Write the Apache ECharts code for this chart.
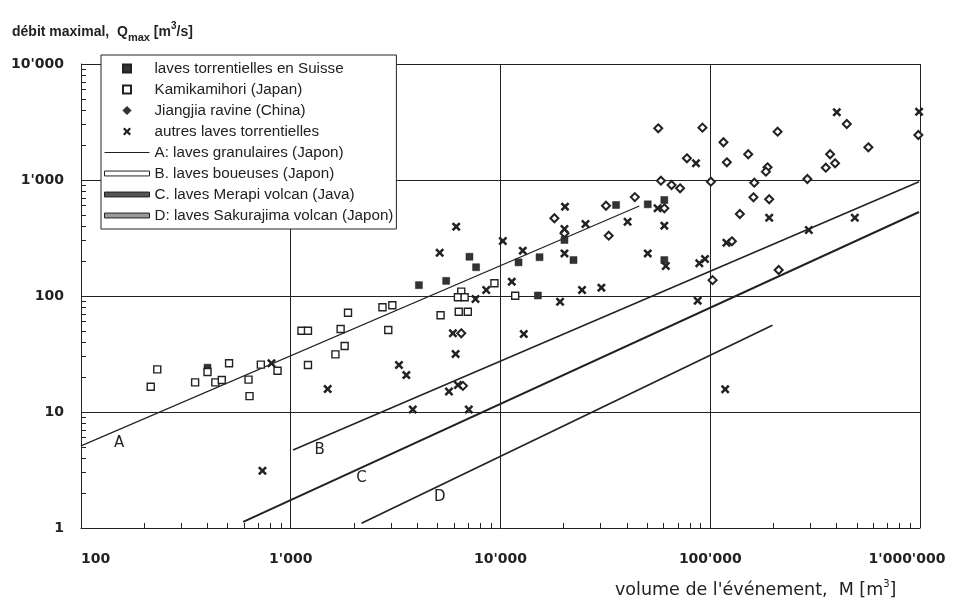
<!DOCTYPE html>
<html>
<head>
<meta charset="utf-8">
<script src="https://cdn.jsdelivr.net/npm/echarts@6/dist/echarts.min.js"></script>
<style>
  html, body { margin: 0; padding: 0; background: #fff; }
  #chart { width: 963px; height: 604px; }
</style>
</head>
<body>
<div id="chart"></div>
<script>
// volume M [m3], debit Q [m3/s]
const suisse = [
  [401, 24.1], [4083, 124], [5508, 135], [7113, 218], [7650, 177], [12190, 195],
  [15350, 216], [20180, 304], [22290, 204], [15070, 101], [35560, 609],
  [50350, 617], [60400, 672], [60400, 204]
]
const kamikamihori = [
  [215, 16.5], [231, 23.3], [350, 18.0], [401, 22.1], [437, 18.0], [469, 18.9],
  [508, 26.3], [629, 19.0], [636, 13.7], [720, 25.6], [865, 22.7], [1125, 50.2],
  [1208, 50.2], [1208, 25.4], [1633, 31.4], [1807, 37.1], [1729, 52.0], [1875, 71.8],
  [2737, 79.9], [3050, 83.2], [2917, 50.9], [5179, 68.2], [9355, 128.7], [6500, 109],
  [6265, 97.5], [6745, 97.5], [11750, 100.6], [6325, 73.2], [6985, 73.2]
]
const jiangjia = [
  [18070, 468], [20180, 347], [31840, 600], [32800, 331], [43700, 712], [60400, 570],
  [6500, 47.7], [102600, 137], [56500, 2790], [91800, 2826], [115600, 2114],
  [120000, 1421], [151700, 1666], [209500, 2610], [187500, 1286], [184200, 1180],
  [77400, 1538], [58200, 986], [65400, 906], [71800, 848], [100700, 967],
  [162200, 948], [290400, 1020], [372700, 1666], [355600, 1277], [393600, 1393],
  [447700, 3040], [567300, 1914], [160700, 709], [191000, 682], [138400, 509],
  [982000, 2443], [211900, 167.5], [126800, 296], [6620, 16.8]
]
const autres = [
  [809, 26.3], [1500, 15.8], [3817, 10.5], [733, 3.12], [5129, 236], [3281, 25.4],
  [3557, 20.8], [20300, 589], [6150, 396], [10260, 298], [12770, 246], [20180, 378],
  [25420, 418], [40350, 437], [20180, 233], [56100, 570], [60400, 404], [50350, 233],
  [61400, 181.5], [11320, 132.9], [8550, 112.7], [7600, 94.2], [19230, 89.3],
  [24470, 112.7], [30270, 118], [87100, 91.1], [88700, 191.4], [94400, 208.4],
  [5930, 47.7], [6110, 31.6], [12910, 47.0], [85500, 1393], [401200, 3836],
  [990000, 3880], [191000, 473], [488900, 473], [295100, 371], [119400, 288],
  [117800, 15.7], [5680, 15.0], [6265, 17.1], [7060, 10.5]
]
// droites de regression (debut, fin)
const lineA = [[100, 5.1], [45900, 597]]
const lineB = [[1026, 4.7], [989000, 967]]
const lineC = [[593, 1.13], [989000, 530]]
const lineD = [[2175, 1.1], [198000, 56]]
// position des lettres A..D
const letterPos = [[152, 5.37], [1374, 4.7], [2175, 2.68], [5129, 1.86]]

const xTicks = [100, 1000, 10000, 100000, 1000000]
const yTicks = [1, 10, 100, 1000, 10000]

const names = [
  'laves torrentielles en Suisse',
  'Kamikamihori (Japan)',
  'Jiangjia ravine (China)',
  'autres laves torrentielles',
  'A: laves granulaires (Japon)',
  'B. laves boueuses (Japon)',
  'C. laves Merapi volcan (Java)',
  'D: laves Sakurajima volcan (Japon)'
]

const font = '"Liberation Sans", Arial, sans-serif'
const wide = '"DejaVu Sans", sans-serif'
const ink = '#222'
const crossPath = 'path://M0,2L2,0L5,3L8,0L10,2L7,5L10,8L8,10L5,7L2,10L0,8L3,5Z'
const squarePath = 'path://M0,0H10V10H0Z'
const diamondPath = 'path://M5,0L10,5L5,10L0,5Z'
const barPath = 'path://M0,0H46V5H0Z'

function fmt(v) {
  const s = String(Math.round(v)).replace(/\B(?=(\d{3})+(?!\d))/g, "'")
  return v >= 1000000 ? '{m|' + s + '}' : s
}

function letter(txt, pos) {
  return {
    symbol: 'circle',
    symbolSize: 0,
    silent: true,
    label: { show: true, formatter: txt, color: ink, fontSize: 15, fontFamily: wide },
    data: [{ coord: pos }]
  }
}

function lineSeries(name, data, width, idx) {
  return {
    name: name,
    type: 'line',
    data: data,
    symbol: 'none',
    lineStyle: { color: ink, width: width },
    itemStyle: { color: ink },
    z: 3,
    markPoint: letter(name.charAt(0), letterPos[idx])
  }
}

const chart = echarts.init(document.getElementById('chart'))

const options = {
  animation: false,
  backgroundColor: '#fff',
  title: [
    {
      left: 12,
      top: 21,
      padding: 0,
      text: 'débit maximal,  Q{sub|max} [m{sup|3}/s]',
      textStyle: {
        color: ink,
        fontSize: 14,
        fontWeight: 'bold',
        fontFamily: font,
        lineHeight: 22,
        rich: {
          sub: { fontSize: 11, fontWeight: 'bold', fontFamily: font, color: ink, lineHeight: 11, verticalAlign: 'bottom' },
          sup: { fontSize: 10, fontWeight: 'bold', fontFamily: font, color: ink, lineHeight: 10, verticalAlign: 'top' }
        }
      }
    },
    {
      left: 615,
      top: 579,
      padding: 0,
      text: "volume de l'événement,  M [m{sup|3}]",
      textStyle: {
        color: ink,
        fontSize: 17.5,
        fontWeight: 'normal',
        fontFamily: wide,
        lineHeight: 22,
        rich: {
          sup: { fontSize: 10, fontFamily: wide, color: ink, lineHeight: 10, verticalAlign: 'top' }
        }
      }
    }
  ],
  grid: {
    left: 81,
    right: 43,
    top: 64,
    bottom: 76
  },
  legend: {
    orient: 'vertical',
    left: 101,
    top: 55,
    padding: [6, 3, 6, 3],
    itemWidth: 45,
    itemHeight: 8,
    itemGap: 6,
    itemTextGap: 0,
    backgroundColor: '#fff',
    borderColor: ink,
    borderWidth: 1,
    textStyle: { color: ink, fontSize: 15.2, fontFamily: font },
    data: [
      { name: names[0], icon: squarePath },
      { name: names[1], icon: squarePath },
      { name: names[2], icon: diamondPath, itemStyle: { color: '#333', borderColor: ink, borderWidth: 1 } },
      { name: names[3], icon: crossPath },
      { name: names[4], icon: 'path://M0,0H46V1.2H0Z', itemStyle: { color: ink, borderWidth: 0 } },
      { name: names[5], icon: barPath, itemStyle: { color: '#fff', borderColor: ink, borderWidth: 1 } },
      { name: names[6], icon: barPath, itemStyle: { color: '#555', borderColor: ink, borderWidth: 1 } },
      { name: names[7], icon: barPath, itemStyle: { color: '#999', borderColor: ink, borderWidth: 1 } }
    ]
  },
  xAxis: {
    type: 'log',
    logBase: 10,
    min: xTicks[0],
    max: xTicks[xTicks.length - 1],
    axisLine: { lineStyle: { color: ink, width: 1 } },
    axisTick: { show: false, inside: true },
    minorTick: { show: true, splitNumber: 9, length: 5, lineStyle: { color: ink } },
    splitLine: { show: true, lineStyle: { color: ink, width: 1 } },
    axisLabel: {
      margin: 24,
      color: ink,
      fontSize: 14,
      fontWeight: 'bold',
      fontFamily: wide,
      alignMinLabel: 'left',
      formatter: fmt,
      rich: { m: { fontSize: 14, fontWeight: 'bold', fontFamily: wide, color: ink, padding: [0, 26, 0, 0] } }
    }
  },
  yAxis: {
    type: 'log',
    logBase: 10,
    min: yTicks[0],
    max: yTicks[yTicks.length - 1],
    axisLine: { show: true, lineStyle: { color: ink, width: 1 } },
    axisTick: { show: false, inside: true },
    minorTick: { show: true, splitNumber: 9, length: 5, lineStyle: { color: ink } },
    splitLine: { show: true, lineStyle: { color: ink, width: 1 } },
    axisLabel: {
      margin: 17,
      color: ink,
      fontSize: 14,
      fontWeight: 'bold',
      fontFamily: wide,
      formatter: fmt
    }
  },
  series: [
    {
      name: names[0],
      type: 'scatter',
      data: suisse,
      symbol: 'rect',
      symbolSize: 7,
      itemStyle: { color: '#333', borderColor: '#222', borderWidth: 0.5, opacity: 1 },
      z: 4
    },
    {
      name: names[1],
      type: 'scatter',
      data: kamikamihori,
      symbol: 'rect',
      symbolSize: 7,
      itemStyle: { color: '#fff', borderColor: '#222', borderWidth: 1.4, opacity: 1 },
      z: 4
    },
    {
      name: names[2],
      type: 'scatter',
      data: jiangjia,
      symbol: 'diamond',
      symbolSize: 8,
      itemStyle: { color: '#fff', borderColor: '#222', borderWidth: 2, opacity: 1 },
      z: 4
    },
    {
      name: names[3],
      type: 'scatter',
      data: autres,
      symbol: crossPath,
      symbolSize: 9,
      itemStyle: { color: '#222', opacity: 1 },
      z: 4
    },
    lineSeries(names[4], lineA, 1.2, 0),
    lineSeries(names[5], lineB, 1.5, 1),
    lineSeries(names[6], lineC, 2, 2),
    lineSeries(names[7], lineD, 1.7, 3)
  ]
}

chart.setOption(options)
</script>
</body>
</html>
